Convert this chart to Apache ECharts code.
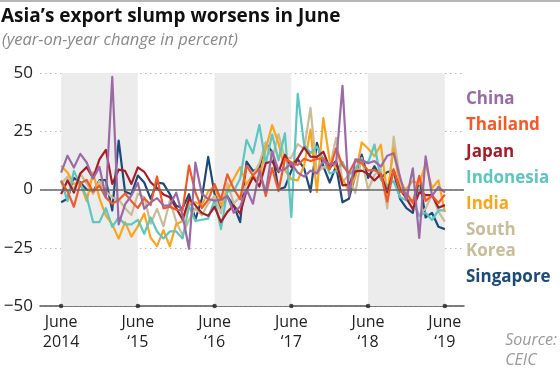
<!DOCTYPE html>
<html><head><meta charset="utf-8">
<script src="https://cdn.jsdelivr.net/npm/echarts@6/dist/echarts.min.js"></script>
<style>html,body{margin:0;padding:0;background:#fff}#c{width:560px;height:374px}</style>
</head><body><div id="c"></div>
<script>
// Months since June 2014 (0 = June 2014 ... 60 = June 2019)
const tickValues = [0, 12, 24, 36, 48, 60];
const tickLabels = ["June\n2014", "June\n\u201815", "June\n\u201816", "June\n\u201817", "June\n\u201818", "June\n\u201819"];
const yTicks = [-50, -25, 0, 25, 50];
const bands = [[0, 12], [24, 36], [48, 60]];

const china = [7.2, 14.5, 9.4, 15.3, 11.6, 4.7, 9.7, -3.3, 48.3, -15.0, -6.4, -2.5, 2.8, -8.3, -5.5, -3.7, -6.9, -6.8, -1.4, -11.2, -25.4, 11.5, -1.8, -4.1, -4.8, -4.4, -2.8, -10.0, -7.3, 0.1, -6.1, 7.9, -1.3, 16.4, 8.0, 8.7, 11.3, 7.2, 5.5, 8.1, 6.9, 12.3, 10.9, 11.1, 44.5, -2.7, 12.9, 12.6, 11.3, 12.2, 9.8, 14.5, 15.6, 5.4, -4.4, 9.1, -20.8, 14.2, -2.7, 1.1, -1.3];
const thailand = [3.6, -0.8, -7.4, 2.7, 4.1, -1.0, 1.7, -3.5, -6.1, -4.5, -1.7, -5.0, -7.9, -3.7, -6.7, 5.6, -8.1, -7.4, -8.7, -8.9, 10.3, -1.3, -8.0, -4.4, 2.3, -4.4, 6.5, 0.2, -4.2, 10.2, 6.0, 8.8, -2.8, 9.2, -0.7, 13.2, 11.7, 10.5, 13.2, 12.2, 13.1, 13.4, 8.6, 17.6, 10.3, 7.1, 12.3, 11.4, 8.2, 8.3, 6.7, -5.2, 8.7, -0.9, -1.7, -5.7, 5.9, -4.9, -2.6, -5.8, -2.2];
const japan = [-2.0, 3.9, -1.3, 6.9, 9.6, 4.9, 12.9, 17.0, 2.4, 8.5, 8.0, 2.4, 9.5, 7.6, 3.1, 0.6, -2.1, -3.3, -8.0, -12.9, -4.0, -6.8, -10.1, -11.3, -7.4, -14.0, -9.6, -6.9, -10.3, -0.4, 5.4, 1.3, 11.3, 12.0, 7.5, 14.9, 9.7, 13.4, 18.1, 14.1, 14.0, 16.2, 9.3, 12.2, 1.8, 2.1, 7.8, 8.1, 6.7, 3.9, 6.6, -1.2, 8.2, 0.1, -3.8, -8.4, -1.2, -2.4, -2.4, -7.8, -6.7];
const indonesia = [4, -5, 8, 2, -3, -14, -14, -8, -16, -12, -15, -15, -13, -19, -12, -18, -21, -18, -18, -21, -7, -13.5, -13, -12.5, -4.4, -17, -0.8, -0.6, 4.6, 21.3, 15.6, 27.7, 11.2, 23.6, 12.6, 24.1, -11.8, 41.1, 19.2, 15.6, 18.4, 13.2, 6.9, 7.9, 11.8, 6.1, 9.0, 12.5, 11.5, 19.3, 4.2, 1.7, 3.6, -3.3, -4.6, -4.7, -11.3, -10.0, -13.1, -9.0, -9.0];
const india = [10.2, 7.3, 2.4, 2.7, -5.0, 7.3, -3.8, -11.2, -15.0, -21.1, -14.0, -20.2, -15.8, -10.3, -20.7, -24.3, -17.5, -24.4, -14.8, -13.6, -5.7, -5.5, -6.7, -0.8, 1.3, -6.8, -0.3, 4.6, 9.6, 2.3, 5.7, 4.3, 17.5, 27.6, 19.8, 8.3, 4.4, 3.9, 10.3, 25.7, -1.1, 30.6, 12.4, 9.1, 4.5, -0.7, 5.2, 20.2, 17.6, 14.3, 19.2, -2.2, 17.9, 0.8, 0.3, 3.7, 2.4, 11.0, 0.6, 3.9, -9.7];
const southKorea = [2.5, 5.5, -0.1, 6.8, 2.5, -1.9, 3.6, -0.9, -3.4, -4.3, -8.0, -10.9, -1.8, -3.3, -14.7, -8.3, -15.8, -4.7, -13.8, -19.6, -13.1, -8.1, -11.1, -6.0, -2.7, -10.2, 2.6, -5.9, -3.2, 2.5, 6.4, 11.2, 20.2, 13.1, 23.8, 13.1, 13.7, 19.5, 17.4, 35.0, 7.1, 9.6, 8.9, 22.2, 3.3, 6.1, -1.5, 13.5, -0.1, 6.2, 8.7, -8.1, 22.7, 4.1, -1.2, -5.8, -11.1, -8.2, -2.0, -9.5, -13.8];
const singapore = [-5.5, -4, 5, 3, 0, -1, 4, 4, -9, 21, -1, -2, 6, 3, -4, 3, 2.5, -2, -7, -8, -2, -13, -4, 14, -2, -8, -3, -7, -14, 12, 8, 9, 20, 16, 0, 1, 8, 13, 9, -1, 20, 10, 3, 10, -5.5, -4, 6, 15, 5, 10, 5, 7.5, 8, -4, -8, -10, 5, -12, -10, -16, -17];

const countries = ["China", "Thailand", "Japan", "Indonesia", "India", "South\nKorea", "Singapore"];
const seriesValues = [china, thailand, japan, indonesia, india, southKorea, singapore];
const colors = ["#9b6aa6", "#f45a29", "#a81c27", "#5cc6c0", "#fca41d", "#c9bc97", "#1c4a7b"];

const FONT = "'Open Sans', Lato, sans-serif";
const chart = echarts.init(document.getElementById('c'), null, {renderer: 'canvas'});

const lineSeries = [];
for (let k = seriesValues.length - 1; k >= 0; k--) {
  lineSeries.push({
    type: 'line', name: countries[k], z: 2 + (seriesValues.length - k) * 0.01,
    data: seriesValues[k].map((v, i) => [i, v]),
    showSymbol: false, symbol: 'none', silent: true,
    lineStyle: {color: colors[k], width: 2.2, join: 'round'},
    itemStyle: {color: colors[k]}
  });
}

const legendY = [99, 125, 152, 178, 204, 241, 277];
const graphics = [
  {type: 'rect', left: 0, top: 0, shape: {width: 560, height: 2}, style: {fill: '#b5b5b5'}},
  {type: 'text', left: 1, top: 7, style: {text: 'Asia\u2019s export slump worsens in June', font: "bold 19px " + FONT, fill: '#111'}},
  {type: 'text', left: 2, top: 32, style: {text: '(year-on-year change in percent)', font: "italic 16.5px " + FONT, fill: '#8a8a8a'}},
  {type: 'text', right: 3, top: 330, style: {text: 'Source:\nCEIC', font: "italic 16px " + FONT, fill: '#9a9a9a', align: 'right', lineHeight: 20}}
];
countries.forEach((c, k) => {
  const lines = c.split('\n').length;
  graphics.push({type: 'text', left: 466, top: legendY[k] - (lines * 21) / 2,
    style: {text: c, font: "bold 17px " + FONT, fill: colors[k], lineHeight: 21}});
});

chart.setOption({
  animation: false,
  grid: {left: 40, right: 96, top: 73, bottom: 68, containLabel: false},
  xAxis: {
    type: 'value', min: -3.3, max: 63,
    axisLine: {show: true, onZero: false, lineStyle: {color: '#555', width: 1.5}},
    axisTick: {show: false},
    splitLine: {show: false},
    axisLabel: {
      customValues: tickValues, margin: 6,
      formatter: v => tickLabels[tickValues.indexOf(v)],
      fontFamily: FONT, fontSize: 16, color: '#222', lineHeight: 20, align: 'center'
    }
  },
  yAxis: {
    type: 'value', min: -50, max: 50, interval: 25,
    axisLine: {show: false}, axisTick: {show: false},
    splitLine: {show: true, lineStyle: {color: '#b8b8b8', type: [1.5, 3.5], width: 1}},
    axisLabel: {margin: 7, fontFamily: FONT, fontSize: 17, color: '#222',
      formatter: v => (v < 0 ? '\u2212' + Math.abs(v) : String(v))}
  },
  graphic: graphics,
  series: [
    {
      type: 'line', data: [], z: -1, silent: true,
      markArea: {silent: true, itemStyle: {color: '#ececec'},
        data: bands.map(b => [{xAxis: b[0]}, {xAxis: b[1]}])}
    },
    {
      type: 'scatter', z: 1, silent: true, clip: false,
      data: tickValues.map(v => [v, yTicks[0]]),
      symbolSize: 4.5, itemStyle: {color: '#222'},
      markLine: {silent: true, symbol: 'none', label: {show: false},
        lineStyle: {color: '#666', type: 'solid', width: 1.5},
        data: [{yAxis: 0}]}
    }
  ].concat(lineSeries)
});
</script>
</body></html>
